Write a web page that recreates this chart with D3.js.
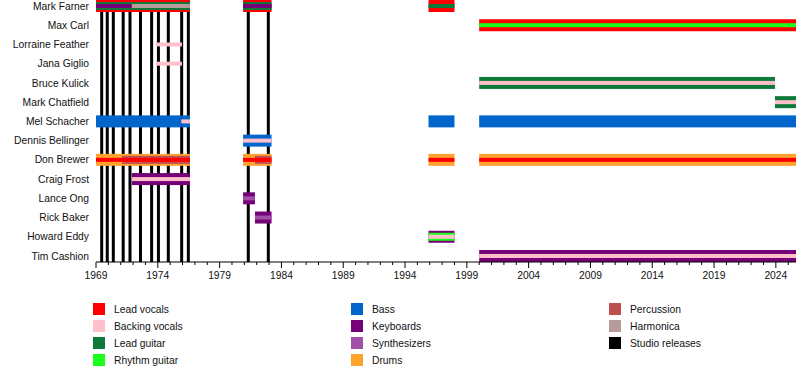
<!DOCTYPE html>
<html>
<head>
<meta charset="utf-8">
<style>
  body { margin: 0; background: #fff; }
  text { font-family: "Liberation Sans", Arial, sans-serif; fill: #111; }
</style>
</head>
<body>
<script src="https://cdn.jsdelivr.net/npm/d3@7"></script>
<script>
var width = 800, height = 380;

var members = ["Mark Farner", "Max Carl", "Lorraine Feather", "Jana Giglio", "Bruce Kulick",
  "Mark Chatfield", "Mel Schacher", "Dennis Bellinger", "Don Brewer", "Craig Frost",
  "Lance Ong", "Rick Baker", "Howard Eddy", "Tim Cashion"];

var now = 2025.63;

// member, start, end, roles (outer -> inner), null = no outer bar
var periods = [
  ["Mark Farner", 1969, 1971.9, ["Lead vocals", "Lead guitar", "Keyboards"]],
  ["Mark Farner", 1971.9, 1976.6, ["Lead vocals", "Lead guitar", "Harmonica"]],
  ["Mark Farner", 1980.9, 1983.2, ["Lead vocals", "Lead guitar", "Keyboards"]],
  ["Mark Farner", 1995.9, 1998.0, ["Lead vocals", "Lead guitar"]],
  ["Max Carl", 2000.0, now, ["Lead vocals", "Rhythm guitar"]],
  ["Lorraine Feather", 1973.85, 1975.95, [null, "Backing vocals"]],
  ["Jana Giglio", 1973.85, 1975.95, [null, "Backing vocals"]],
  ["Bruce Kulick", 2000.0, 2023.93, ["Lead guitar", "Backing vocals"]],
  ["Mark Chatfield", 2023.93, now, ["Lead guitar", "Backing vocals"]],
  ["Mel Schacher", 1969, 1975.9, ["Bass"]],
  ["Mel Schacher", 1975.9, 1976.6, ["Bass", "Backing vocals"]],
  ["Mel Schacher", 1995.9, 1998.0, ["Bass"]],
  ["Mel Schacher", 2000.0, now, ["Bass"]],
  ["Dennis Bellinger", 1980.9, 1983.2, ["Bass", "Backing vocals"]],
  ["Don Brewer", 1969, 1971.1, ["Drums", "Lead vocals"]],
  ["Don Brewer", 1971.1, 1976.6, ["Drums", "Percussion", "Lead vocals"]],
  ["Don Brewer", 1980.9, 1981.86, ["Drums", "Lead vocals"]],
  ["Don Brewer", 1981.86, 1983.2, ["Drums", "Percussion", "Lead vocals"]],
  ["Don Brewer", 1995.9, 1998.0, ["Drums", "Lead vocals"]],
  ["Don Brewer", 2000.0, now, ["Drums", "Lead vocals"]],
  ["Craig Frost", 1971.9, 1976.6, ["Keyboards", "Backing vocals"]],
  ["Lance Ong", 1980.9, 1981.86, ["Keyboards", "Synthesizers"]],
  ["Rick Baker", 1981.86, 1983.2, ["Keyboards", "Synthesizers"]],
  ["Howard Eddy", 1995.9, 1998.0, ["Keyboards", "Rhythm guitar", "Backing vocals"]],
  ["Tim Cashion", 2000.0, now, ["Keyboards", "Backing vocals"]]
];

var studioReleases = [1969.46, 1969.91, 1970.4, 1971.2, 1971.75, 1972.6, 1973.5,
  1974.05, 1974.85, 1975.93, 1976.47, 1981.32, 1982.94];

var roles = ["Lead vocals", "Backing vocals", "Lead guitar", "Rhythm guitar", "Bass",
  "Keyboards", "Synthesizers", "Drums", "Percussion", "Harmonica", "Studio releases"];
var roleColors = ["#ff0000", "#ffc0cb", "#0e7a3a", "#1cff1c", "#0066cc",
  "#760078", "#a24fa8", "#ffa22e", "#c04f50", "#b89c9c", "#000000"];

var legendColumns = [
  ["Lead vocals", "Backing vocals", "Lead guitar", "Rhythm guitar"],
  ["Bass", "Keyboards", "Synthesizers", "Drums"],
  ["Percussion", "Harmonica", "Studio releases"]
];

var color = d3.scaleOrdinal().domain(roles).range(roleColors);

var svg = d3.select("body").append("svg")
    .attr("width", width)
    .attr("height", height);

var x = d3.scaleLinear().domain([1969, now]).range([96, 796]);
var y = d3.scalePoint().domain(members).range([6, 256]);
var axisY = 262;

// studio release lines
svg.append("g").selectAll("line")
    .data(studioReleases)
    .enter().append("line")
    .attr("x1", function(d) { return x(d); })
    .attr("x2", function(d) { return x(d); })
    .attr("y1", 0)
    .attr("y2", axisY)
    .attr("stroke", color("Studio releases"))
    .attr("stroke-width", 3);

// member bars, one rect per role layer
var layerSizes = { 1: [12], 2: [12, 4], 3: [12, 8, 4] };
var layers = [];
periods.forEach(function(p) {
  var sizes = layerSizes[p[3].length];
  p[3].forEach(function(r, i) {
    if (r) layers.push({ member: p[0], start: p[1], end: p[2], role: r, h: sizes[i] });
  });
});

svg.append("g").selectAll("rect")
    .data(layers)
    .enter().append("rect")
    .attr("x", function(d) { return x(d.start); })
    .attr("width", function(d) { return x(d.end) - x(d.start); })
    .attr("y", function(d) { return y(d.member) - d.h / 2; })
    .attr("height", function(d) { return d.h; })
    .attr("fill", function(d) { return color(d.role); });

// member names
svg.append("g").selectAll("text")
    .data(members)
    .enter().append("text")
    .attr("x", 89)
    .attr("y", function(d) { return y(d); })
    .attr("dy", "0.35em")
    .attr("text-anchor", "end")
    .style("font-size", "10.3px")
    .text(function(d) { return d; });

// x axis
var years = d3.range(1969, 2026);
var majorYears = d3.range(1969, 2026, 5);

var axis = svg.append("g").attr("transform", "translate(0," + axisY + ")");
axis.append("line")
    .attr("x1", x(1969)).attr("x2", x(now))
    .attr("stroke", "#000").attr("stroke-width", 1);
axis.selectAll(".minor")
    .data(years)
    .enter().append("line")
    .attr("class", "minor")
    .attr("x1", function(d) { return x(d); })
    .attr("x2", function(d) { return x(d); })
    .attr("y1", 0)
    .attr("y2", function(d) { return (d - 1969) % 5 === 0 ? 6 : 3; })
    .attr("stroke", "#000");
axis.selectAll(".lbl")
    .data(majorYears)
    .enter().append("text")
    .attr("class", "lbl")
    .attr("x", function(d) { return x(d); })
    .attr("y", 17)
    .attr("text-anchor", "middle")
    .style("font-size", "10.3px")
    .text(function(d) { return d; });

// legend
var legendX = [93, 351, 609];
legendColumns.forEach(function(col, ci) {
  var g = svg.append("g").attr("transform", "translate(" + legendX[ci] + ",309)");
  var item = g.selectAll("g")
      .data(col)
      .enter().append("g")
      .attr("transform", function(d, i) { return "translate(0," + (i * 17) + ")"; });
  item.append("rect")
      .attr("x", 0).attr("y", -6)
      .attr("width", 12).attr("height", 12)
      .attr("fill", function(d) { return color(d); });
  item.append("text")
      .attr("x", 21)
      .attr("dy", "0.35em")
      .style("font-size", "10.3px")
      .text(function(d) { return d; });
});
</script>
</body>
</html>
